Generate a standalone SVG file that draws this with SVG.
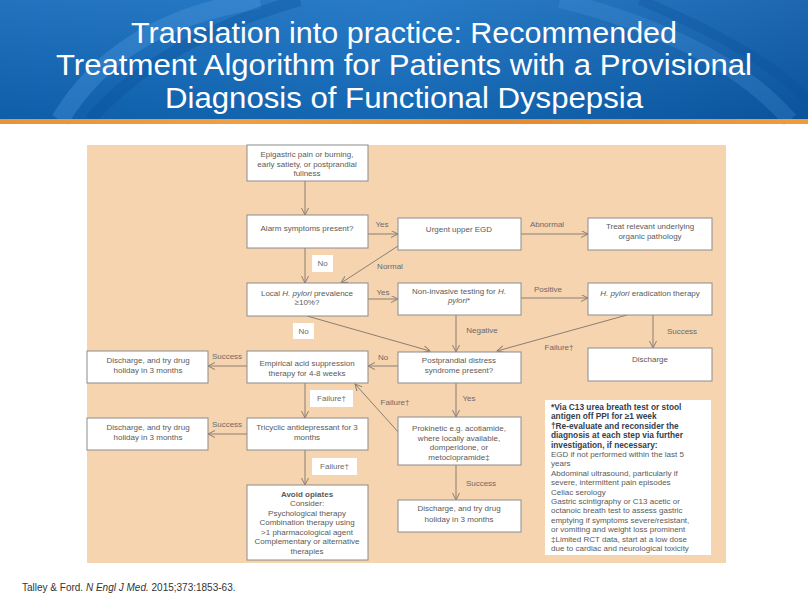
<svg xmlns="http://www.w3.org/2000/svg" width="808" height="605" viewBox="0 0 808 605">
<defs>
<linearGradient id="hdr" x1="0" y1="0" x2="1" y2="0">
<stop offset="0" stop-color="#0f66b8"/>
<stop offset="0.5" stop-color="#1670c2"/>
<stop offset="1" stop-color="#0b5aa9"/>
</linearGradient>
<linearGradient id="hdrv" x1="0" y1="0" x2="0" y2="1">
<stop offset="0" stop-color="#ffffff" stop-opacity="0.08"/>
<stop offset="1" stop-color="#000000" stop-opacity="0.08"/>
</linearGradient>
<linearGradient id="strip" x1="0" y1="0" x2="1" y2="0">
<stop offset="0" stop-color="#e9923a"/>
<stop offset="0.3" stop-color="#f0a040"/>
<stop offset="0.6" stop-color="#e48a30"/>
<stop offset="1" stop-color="#ef9c3c"/>
</linearGradient>
<marker id="ah" markerUnits="userSpaceOnUse" markerWidth="10" markerHeight="10" refX="7" refY="3.5" orient="auto">
<path d="M0,0 L7,3.5 L0,7" fill="none" stroke="#8a7e72" stroke-width="1"/>
</marker>
<style>
.box{fill:#ffffff;stroke:#8c8c8c;stroke-width:1}
.t{font-family:"Liberation Sans",Arial,sans-serif;font-size:8px;fill:#5a5a5a;text-anchor:middle}
.lb{font-family:"Liberation Sans",Arial,sans-serif;font-size:8px;fill:#6a6a6a;text-anchor:middle}
.lbox{fill:#ffffff;stroke:none}
.c{fill:none;stroke:#8a7e72;stroke-width:1;marker-end:url(#ah)}
.title{font-family:"Liberation Sans",Arial,sans-serif;font-size:29px;fill:#ffffff;text-anchor:middle}
.nb{font-family:"Liberation Sans",Arial,sans-serif;font-size:8.3px;fill:#33404d;font-weight:bold}
.nr{font-family:"Liberation Sans",Arial,sans-serif;font-size:8px;fill:#5a5a5a}
</style>
</defs>
<rect x="0" y="0" width="808" height="605" fill="#ffffff"/>
<g id="header">
<rect x="0" y="0" width="808" height="120" fill="url(#hdr)"/>
<rect x="0" y="0" width="808" height="120" fill="url(#hdrv)"/>
<path d="M60,120 Q120,20 260,0" fill="none" stroke="#4f9be0" stroke-opacity="0.35" stroke-width="18"/>
<path d="M90,120 Q160,40 300,0" fill="none" stroke="#0a4f98" stroke-opacity="0.35" stroke-width="12"/>
<path d="M560,0 Q720,40 790,120" fill="none" stroke="#4f9be0" stroke-opacity="0.25" stroke-width="16"/>
<path d="M640,0 Q760,50 808,100" fill="none" stroke="#0a4f98" stroke-opacity="0.3" stroke-width="10"/>
<rect x="0" y="119" width="808" height="5" fill="url(#strip)"/>
<text class="title" x="404" y="43" textLength="546" lengthAdjust="spacingAndGlyphs">Translation into practice: Recommended</text>
<text class="title" x="404" y="75" textLength="696" lengthAdjust="spacingAndGlyphs">Treatment Algorithm for Patients with a Provisional</text>
<text class="title" x="404" y="108" textLength="478" lengthAdjust="spacingAndGlyphs">Diagnosis of Functional Dyspepsia</text>
</g>
<rect id="panel" x="87" y="145" width="639" height="418" fill="#f6d4b0"/>
<g id="connectors">
<line class="c" x1="305" y1="181" x2="305" y2="215"/>
<line class="c" x1="368" y1="234" x2="398" y2="234"/>
<line class="c" x1="305" y1="248" x2="305" y2="283"/>
<line class="c" x1="398" y1="246" x2="341" y2="283"/>
<line class="c" x1="521" y1="234" x2="588" y2="234"/>
<line class="c" x1="368" y1="299" x2="398" y2="299"/>
<line class="c" x1="521" y1="298" x2="588" y2="298"/>
<line class="c" x1="456" y1="315" x2="456" y2="352"/>
<line class="c" x1="627" y1="315" x2="497" y2="351"/>
<line class="c" x1="653" y1="315" x2="653" y2="348"/>
<line class="c" x1="307" y1="316" x2="430" y2="351"/>
<line class="c" x1="398" y1="366" x2="368" y2="366"/>
<line class="c" x1="247" y1="366" x2="208" y2="366"/>
<line class="c" x1="305" y1="383" x2="305" y2="418"/>
<line class="c" x1="400" y1="434" x2="355" y2="384"/>
<line class="c" x1="247" y1="434" x2="208" y2="434"/>
<line class="c" x1="305" y1="450" x2="305" y2="485"/>
<line class="c" x1="456" y1="383" x2="456" y2="417"/>
<line class="c" x1="456" y1="465" x2="456" y2="500"/>
<rect class="lbox" x="312" y="255" width="21" height="17"/>
<text class="lb" x="322.5" y="266">No</text>
<text class="lb" x="382" y="227">Yes</text>
<text class="lb" x="390" y="269">Normal</text>
<text class="lb" x="383" y="295">Yes</text>
<text class="lb" x="547" y="227">Abnormal</text>
<text class="lb" x="548" y="292">Positive</text>
<text class="lb" x="482" y="333">Negative</text>
<text class="lb" x="682" y="334">Success</text>
<text class="lb" x="559" y="350">Failure†</text>
<rect class="lbox" x="293" y="323" width="21" height="16"/>
<text class="lb" x="303.5" y="334">No</text>
<text class="lb" x="383" y="360">No</text>
<text class="lb" x="227" y="359">Success</text>
<rect class="lbox" x="310" y="390" width="43" height="17"/>
<text class="lb" x="331.5" y="401">Failure†</text>
<text class="lb" x="395" y="405">Failure†</text>
<text class="lb" x="227" y="427">Success</text>
<rect class="lbox" x="312" y="458" width="45" height="17"/>
<text class="lb" x="334.5" y="469">Failure†</text>
<text class="lb" x="469" y="401">Yes</text>
<text class="lb" x="481" y="486">Success</text>
</g>
<g id="n-epigastric">
<rect class="box" x="247" y="145" width="121" height="36"/>
<text class="t" x="307" y="157">Epigastric pain or burning,</text>
<text class="t" x="307" y="166.5">early satiety, or postprandial</text>
<text class="t" x="307" y="176">fullness</text>
</g>
<g id="n-alarm">
<rect class="box" x="247" y="215" width="121" height="33"/>
<text class="t" x="307" y="231">Alarm symptoms present?</text>
</g>
<g id="n-egd">
<rect class="box" x="398" y="218" width="123" height="32"/>
<text class="t" x="459" y="232">Urgent upper EGD</text>
</g>
<g id="n-treat">
<rect class="box" x="588" y="218" width="124" height="32"/>
<text class="t" x="650" y="229">Treat relevant underlying</text>
<text class="t" x="650" y="239">organic pathology</text>
</g>
<g id="n-local">
<rect class="box" x="247" y="283" width="121" height="33"/>
<text class="t" x="307" y="296">Local <tspan font-style="italic">H. pylori</tspan> prevalence</text>
<text class="t" x="307" y="305">≥10%?</text>
</g>
<g id="n-noninvasive">
<rect class="box" x="398" y="283" width="123" height="32"/>
<text class="t" x="459" y="294">Non-invasive testing for <tspan font-style="italic">H.</tspan></text>
<text class="t" x="459" y="303"><tspan font-style="italic">pylori</tspan>*</text>
</g>
<g id="n-erad">
<rect class="box" x="588" y="283" width="124" height="32"/>
<text class="t" x="650" y="296"><tspan font-style="italic">H. pylori</tspan> eradication therapy</text>
</g>
<g id="n-discharge">
<rect class="box" x="588" y="348" width="124" height="33"/>
<text class="t" x="650" y="362">Discharge</text>
</g>
<g id="n-postprandial">
<rect class="box" x="398" y="352" width="123" height="31"/>
<text class="t" x="459" y="363">Postprandial distress</text>
<text class="t" x="459" y="373">syndrome present?</text>
</g>
<g id="n-empirical">
<rect class="box" x="247" y="351" width="121" height="32"/>
<text class="t" x="307" y="366">Empirical acid suppression</text>
<text class="t" x="307" y="376">therapy for 4-8 weeks</text>
</g>
<g id="n-discharge1">
<rect class="box" x="87" y="351" width="121" height="32"/>
<text class="t" x="148" y="363">Discharge, and try drug</text>
<text class="t" x="148" y="373">holiday in 3 months</text>
</g>
<g id="n-tricyclic">
<rect class="box" x="247" y="418" width="121" height="32"/>
<text class="t" x="307" y="430">Tricyclic antidepressant for 3</text>
<text class="t" x="307" y="440">months</text>
</g>
<g id="n-discharge2">
<rect class="box" x="87" y="418" width="121" height="32"/>
<text class="t" x="148" y="430">Discharge, and try drug</text>
<text class="t" x="148" y="440">holiday in 3 months</text>
</g>
<g id="n-prokinetic">
<rect class="box" x="398" y="417" width="123" height="48"/>
<text class="t" x="459" y="431">Prokinetic e.g. acotiamide,</text>
<text class="t" x="459" y="440.5">where locally available,</text>
<text class="t" x="459" y="450">domperidone, or</text>
<text class="t" x="459" y="459.5">metoclopramide‡</text>
</g>
<g id="n-discharge3">
<rect class="box" x="398" y="500" width="123" height="32"/>
<text class="t" x="459" y="511">Discharge, and try drug</text>
<text class="t" x="459" y="522">holiday in 3 months</text>
</g>
<g id="n-avoid">
<rect class="box" x="247" y="485" width="121" height="75"/>
<text class="t" x="307" y="497" font-weight="bold" fill="#444">Avoid opiates</text>
<text class="t" x="307" y="506">Consider:</text>
<text class="t" x="307" y="515.5">Psychological therapy</text>
<text class="t" x="307" y="525">Combination therapy using</text>
<text class="t" x="307" y="534.5">&gt;1 pharmacological agent</text>
<text class="t" x="307" y="544">Complementary or alternative</text>
<text class="t" x="307" y="553.5">therapies</text>
</g>
<g id="note">
<rect x="545" y="400" width="166" height="155" fill="#ffffff"/>
<text class="nb" x="551" y="410">*Via C13 urea breath test or stool</text>
<text class="nb" x="551" y="419.4">antigen off PPI for ≥1 week</text>
<text class="nb" x="551" y="428.8">†Re-evaluate and reconsider the</text>
<text class="nb" x="551" y="438.2">diagnosis at each step via further</text>
<text class="nb" x="551" y="447.6">investigation, if necessary:</text>
<text class="nr" x="551" y="457">EGD if not performed within the last 5</text>
<text class="nr" x="551" y="466.4">years</text>
<text class="nr" x="551" y="475.8">Abdominal ultrasound, particularly if</text>
<text class="nr" x="551" y="485.2">severe, intermittent pain episodes</text>
<text class="nr" x="551" y="494.6">Celiac serology</text>
<text class="nr" x="551" y="504">Gastric scintigraphy or C13 acetic or</text>
<text class="nr" x="551" y="513.4">octanoic breath test to assess gastric</text>
<text class="nr" x="551" y="522.8">emptying if symptoms severe/resistant,</text>
<text class="nr" x="551" y="532.2">or vomiting and weight loss prominent</text>
<text class="nr" x="551" y="541.6">‡Limited RCT data, start at a low dose</text>
<text class="nr" x="551" y="551">due to cardiac and neurological toxicity</text>
</g>
<text id="footer" x="22" y="591" font-family="'Liberation Sans',Arial,sans-serif" font-size="10px" fill="#333333">Talley &amp; Ford. <tspan font-style="italic">N Engl J Med.</tspan> 2015;373:1853-63.</text>
</svg>
